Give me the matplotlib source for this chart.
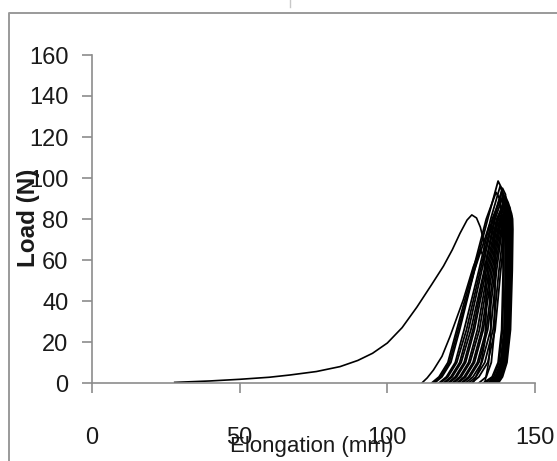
import matplotlib as mpl
import numpy as np
from matplotlib import pyplot as plt
from matplotlib.lines import Line2D

mpl.use('Agg')

# first loading cycle (long pull from slack)
first_x = [28, 40, 50, 60, 67, 76, 84, 90, 95, 100, 105, 110, 115, 119, 122, 124.6, 127, 128.6,
           130.2, 131.5, 132.5, 133.6, 134.5, 135, 135, 134.3, 133]
first_y = [0.3, 1, 1.8, 2.8, 3.9, 5.6, 8, 11, 14.5, 19.5, 27, 37, 48, 57, 65, 73, 79.5, 82,
           80.5, 76, 70, 60, 48, 35, 22, 10, 0]

# second cycle
second_x = [111.7, 113.5, 115.6, 118.5, 121.2, 125.7, 129.1, 131.4, 132.5, 133.3, 133.5, 133, 131.5, 129]
second_y = [0, 2.5, 6.3, 13, 22.6, 40.5, 56.7, 65, 62, 50, 35, 20, 8, 0]

# repeated cycles: loading branch, peak, unloading branch
cycles_x = [
    [116, 118.5, 121.5, 124.5, 129.5, 134, 137.5, 138.7, 139.3, 139.5, 139, 137.8, 136, 133],
    [117.5, 120, 123, 126, 131, 135, 138.2, 139.3, 139.8, 140, 139.5, 138.3, 136.5, 134],
    [119, 121.5, 124.5, 127.5, 132, 135.8, 138.8, 139.8, 140.3, 140.4, 139.9, 138.7, 137, 134.5],
    [120.5, 123, 126, 129, 133, 136.5, 139.3, 140.3, 140.7, 140.8, 140.3, 139, 137.3, 135],
    [122, 124.5, 127.5, 130.5, 134, 137.3, 139.8, 140.7, 141, 141.1, 140.6, 139.3, 137.6, 135.5],
    [123.5, 126, 129, 132, 135, 138, 140.3, 141.1, 141.4, 141.4, 140.8, 139.5, 137.8, 136],
    [125, 127.5, 130.5, 133.5, 136, 138.6, 140.8, 141.5, 141.7, 141.6, 141, 139.8, 138.2, 136.5],
    [126.5, 129, 132, 135, 137, 139.3, 141.3, 141.9, 142, 141.8, 141.2, 140, 138.5, 137],
    [115, 117.5, 120.5, 123.5, 129, 133.5, 136.8, 138, 138.8, 139.2, 138.7, 137.5, 135.5, 132.5],
    [118, 120.5, 123.5, 126.8, 131.5, 135.5, 138.4, 139.4, 139.9, 140.1, 139.7, 138.5, 136.7, 134.3],
    [115.5, 118, 121, 124, 129.5, 132.5, 134.5, 135.8, 136.3, 136.5, 136.3, 135.2, 133.5, 131],
    [121, 123.5, 126.5, 129.5, 133.5, 137, 139.6, 140.5, 140.9, 141, 140.5, 139.2, 137.5, 135.3],
    [124, 126.5, 129.5, 132.5, 135.5, 138.3, 140.6, 141.3, 141.5, 141.5, 140.9, 139.6, 138, 136.2],
    [127.5, 130, 133, 135.8, 137.8, 139.8, 141.6, 142.1, 142.2, 142, 141.4, 140.2, 138.7, 137.3],
    [125.5, 128, 131, 134, 136.5, 139, 140.9, 141.6, 141.9, 141.9, 141.3, 140, 138.3, 136.8],
    [122.5, 125, 128, 131.2, 134.5, 137.6, 140, 140.9, 141.2, 141.3, 140.7, 139.4, 137.7, 135.8],
    [119.5, 122, 125, 128.3, 132.8, 136.2, 139, 140, 140.5, 140.6, 140.1, 138.9, 137.2, 135],
    [128.5, 131, 134, 136.5, 138.4, 140.3, 142, 142.4, 142.5, 142.3, 141.7, 140.5, 139, 137.6],
]
cycles_y = [
    [0, 3, 10, 26, 55, 80, 98.5, 95, 80, 55, 26, 10, 3, 0],
    [0, 3, 10, 26, 55, 80, 96, 92, 80, 55, 26, 10, 3, 0],
    [0, 3, 10, 26, 55, 80, 94, 90, 80, 55, 26, 10, 3, 0],
    [0, 3, 10, 26, 55, 80, 92, 88, 80, 55, 26, 10, 3, 0],
    [0, 3, 10, 26, 55, 80, 90.5, 87, 80, 55, 26, 10, 3, 0],
    [0, 3, 10, 26, 55, 80, 89, 85, 80, 55, 26, 10, 3, 0],
    [0, 3, 10, 26, 55, 80, 87.5, 84, 80, 55, 26, 10, 3, 0],
    [0, 3, 10, 26, 55, 80, 86, 83, 80, 55, 26, 10, 3, 0],
    [0, 3, 10, 26, 55, 80, 93, 90, 80, 55, 26, 10, 3, 0],
    [0, 3, 10, 26, 55, 80, 90, 87, 80, 55, 26, 10, 3, 0],
    [0, 3, 10, 26, 55, 68, 77, 74, 68, 55, 26, 10, 3, 0],
    [0, 3, 10, 26, 55, 80, 88, 85, 80, 55, 26, 10, 3, 0],
    [0, 3, 10, 26, 55, 80, 85, 82, 80, 55, 26, 10, 3, 0],
    [0, 3, 10, 26, 55, 80, 84, 81, 76, 55, 26, 10, 3, 0],
    [0, 3, 10, 26, 55, 80, 88, 85, 80, 55, 26, 10, 3, 0],
    [0, 3, 10, 26, 55, 80, 91, 88, 80, 55, 26, 10, 3, 0],
    [0, 3, 10, 26, 55, 80, 95, 92, 80, 55, 26, 10, 3, 0],
    [0, 3, 10, 26, 55, 80, 83, 80, 75, 55, 26, 10, 3, 0],
]

x_ticks = [0, 50, 100, 150]
y_ticks = [0, 20, 40, 60, 80, 100, 120, 140, 160]

axis_grey = '#8c8c8c'
text_col = '#1a1a1a'
label_font = ['Liberation Sans', 'DejaVu Sans']

fig = plt.figure(figsize=(5.57, 4.61), dpi=100, facecolor='white')
ax = fig.add_axes([92 / 557, 1 - 383 / 461, 443 / 557, 328 / 461])

ax.plot(first_x, first_y, color='black', lw=1.2)
ax.plot(second_x, second_y, color='black', lw=1.2)
for cx, cy in zip(cycles_x, cycles_y):
    ax.plot(cx, cy, color='black', lw=1.3)

ax.set_xlim(0, 150)
ax.set_ylim(0, 160)
ax.set_xticks(x_ticks)
ax.set_yticks(y_ticks)

for side in ['top', 'right']:
    ax.spines[side].set_visible(False)
for side in ['left', 'bottom']:
    ax.spines[side].set_color(axis_grey)
    ax.spines[side].set_linewidth(1.2)

ax.tick_params(axis='both', direction='out', length=7, width=1.2, color=axis_grey,
               labelcolor=text_col, labelsize=17)
ax.tick_params(axis='y', pad=10)
ax.tick_params(axis='x', pad=25)
for lbl in ax.get_xticklabels() + ax.get_yticklabels():
    lbl.set_family(label_font)

fig.text(312 / 557, 1 - 446 / 461, 'Elongation (mm)', ha='center', va='center',
         fontsize=16, color=text_col, family=label_font)
fig.text(28 / 557, 1 - 218 / 461, 'Load (N)', ha='center', va='center', rotation=90,
         fontsize=17.5, fontweight='bold', color=text_col, family=label_font)

# outer chart frame
fig.add_artist(Line2D([9 / 557, 9 / 557, 1], [0, 1 - 13 / 461, 1 - 13 / 461],
                      transform=fig.transFigure, color='#9a9a9a', lw=1.4))
fig.add_artist(Line2D([290 / 557, 290 / 557], [1, 1 - 7 / 461],
                      transform=fig.transFigure, color='#c8c8c8', lw=1))

fig.savefig('out.png', dpi=100, facecolor='white')
